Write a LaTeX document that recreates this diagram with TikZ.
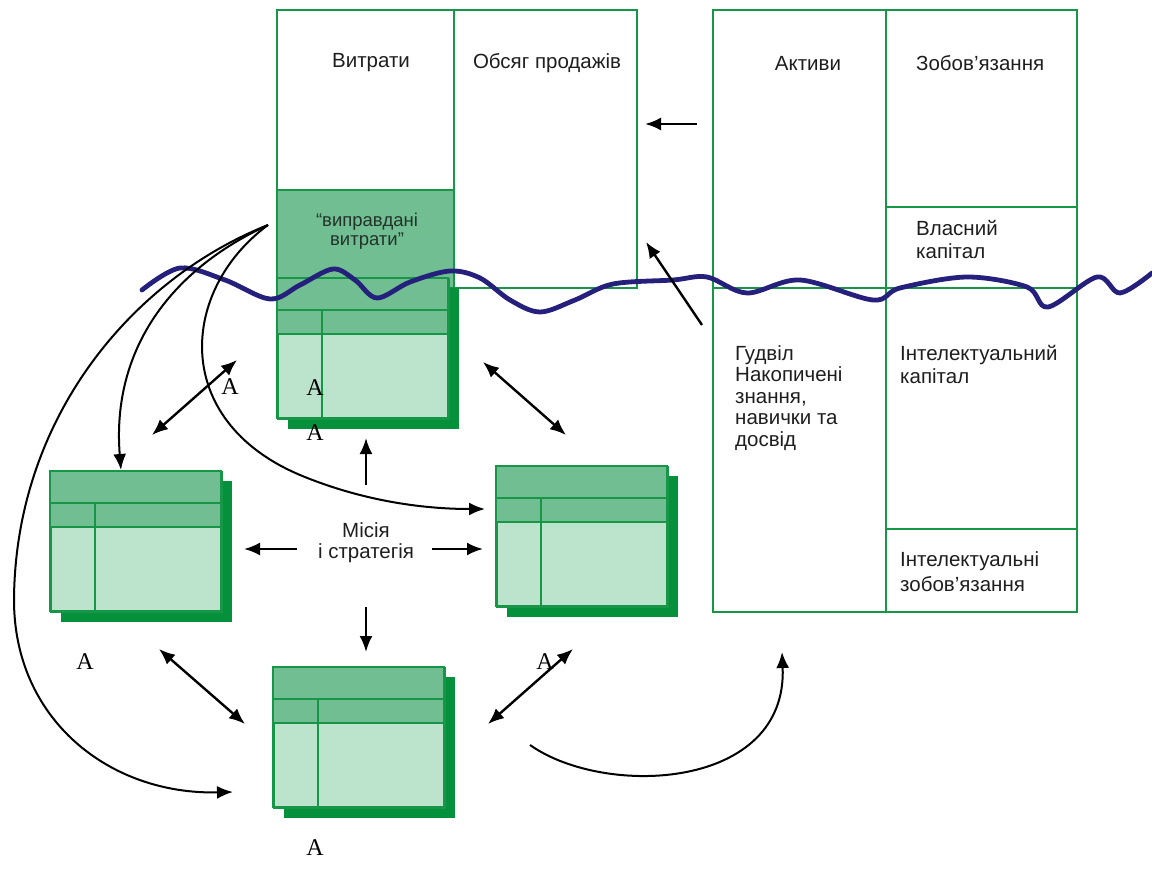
\documentclass[tikz,border=0pt]{standalone}
\usepackage{fontspec}
\setmainfont{Liberation Sans}
\newfontfamily\timesA{Liberation Serif}
\usetikzlibrary{arrows.meta}
\definecolor{gline}{RGB}{22,150,70}
\definecolor{ghead}{RGB}{112,190,146}
\definecolor{gbody}{RGB}{188,227,204}
\definecolor{gshadow}{RGB}{5,145,60}
\definecolor{wavec}{RGB}{38,32,125}
\definecolor{txt}{RGB}{30,30,30}
\tikzset{
  tbl/.style={draw=gline, line width=2.4pt},
  lbl/.style={font=\fontsize{20.5}{23}\selectfont, text=txt, inner sep=0pt},
  lbll/.style={lbl, align=left, anchor=north west},
  arr/.style={line width=2.4pt, -{Latex[length=16pt,width=13pt]}},
  darr/.style={line width=2.4pt, {Latex[length=16pt,width=13pt]}-{Latex[length=16pt,width=13pt]}},
  curv/.style={line width=2pt, -{Latex[length=16pt,width=13pt]}},
  amark/.style={font=\timesA\fontsize{24}{24}\selectfont, inner sep=0pt},
  cardbox/.style={draw=gline, line width=2.4pt, fill=gbody, minimum width=171pt, minimum height=140pt, anchor=north west, inner sep=0pt},
}
\newcommand\mkcard[3]{%
  \fill[gshadow] (#2+11,#3+10) rectangle (#2+182,#3+151);
  \node[cardbox] (#1) at (#2,#3) {};
  \fill[ghead] (#2,#3) rectangle (#2+171,#3+56);
  \draw[gline, line width=2.4pt] (#2,#3) rectangle (#2+171,#3+140);
  \draw[gline, line width=2.4pt] (#2,#3+32) -- (#2+171,#3+32);
  \draw[gline, line width=2.4pt] (#2,#3+56) -- (#2+171,#3+56);
  \draw[gline, line width=2.4pt] (#2+45,#3+32) -- (#2+45,#3+140);
}
\begin{document}
\begin{tikzpicture}[x=1pt,y=-1pt]
\useasboundingbox (0,0) rectangle (1152,885);
% left table
\fill[ghead] (277,190) rectangle (454,288);
\draw[tbl] (277,10) rectangle (637,288);
\draw[tbl] (454,10) -- (454,288);
\draw[tbl] (277,190) -- (454,190);
\node[lbl] (vytr) at (371,63) {Витрати};
\node[lbl] (obs) at (547,63) {Обсяг продажів};
\node[lbl, align=center, font=\fontsize{18.5}{19}\selectfont, text={rgb,255:red,35;green,50;blue,42}] (vypr) at (367,231) {“виправдані\\витрати”};
% right table
\draw[tbl] (713,10) rectangle (1077,612);
\draw[tbl] (886,10) -- (886,612);
\draw[tbl] (713,288) -- (1077,288);
\draw[tbl] (886,207) -- (1077,207);
\draw[tbl] (886,529) -- (1077,529);
\node[lbl] (akt) at (808,63) {Активи};
\node[lbl, anchor=west] (zob) at (916,63) {Зобов’язання};
\node[lbll, font=\fontsize{20.5}{23}\selectfont] (vlas) at (916,220) {Власний\\капітал};
\node[lbll, font=\fontsize{20.5}{21.5}\selectfont] (gudv) at (735,345) {Гудвіл\\Накопичені\\знання,\\навички та\\досвід};
\node[lbll, font=\fontsize{20.5}{23}\selectfont] (ikap) at (900,345) {Інтелектуальний\\капітал};
\node[lbll, font=\fontsize{20.5}{25}\selectfont] (izob) at (900,551) {Інтелектуальні\\зобов’язання};
% cards
\mkcard{ct}{277}{278}
\mkcard{cl}{50}{471}
\mkcard{cr}{496}{466}
\mkcard{cb}{273}{667}
% wave
\draw[wavec, line width=4.8pt, line cap=round, line join=round] plot[smooth, tension=0.55] coordinates {
 (142,290) (180,268) (225,280) (270,299) (300,285) (333,269) (355,280) (377,298) (410,282) (450,271)
 (480,278) (510,300) (540,312) (575,300) (613,284) (673,280) (707,277) (747,293) (800,280) (873,300) (900,288) (967,277)
 (1027,287) (1048,307) (1097,277) (1120,293) (1152,273)};
% mission
\node[lbl, align=center, font=\fontsize{20.5}{21}\selectfont] (mis) at (366,543) {Місія\\і стратегія};
\coordinate (mu1) at (366,485); \coordinate (mu2) at (366,438);
\coordinate (ml1) at (297,549); \coordinate (ml2) at (244,549);
\coordinate (mr1) at (432,549); \coordinate (mr2) at (483,549);
\coordinate (md1) at (366,607); \coordinate (md2) at (366,652);
\draw[arr] (mu1) -- (mu2);
\draw[arr] (ml1) -- (ml2);
\draw[arr] (mr1) -- (mr2);
\draw[arr] (md1) -- (md2);
% double arrows
\coordinate (d1a) at (237,360); \coordinate (d1b) at (152,435);
\coordinate (d2a) at (483,362); \coordinate (d2b) at (566,435);
\coordinate (d3a) at (159,649); \coordinate (d3b) at (245,724);
\coordinate (d4a) at (573,649); \coordinate (d4b) at (488,724);
\draw[darr] (d1a) -- (d1b);
\draw[darr] (d2a) -- (d2b);
\draw[darr] (d3a) -- (d3b);
\draw[darr] (d4a) -- (d4b);
% arrows to left table
\coordinate (h1) at (697,124); \coordinate (h2) at (645,124);
\coordinate (g1) at (702,325); \coordinate (g2) at (646,242);
\draw[arr] (h1) -- (h2);
\draw[arr] (g1) -- (g2);
% fan of curves
\coordinate (src) at (268,225);
\coordinate (ta) at (233,792);
\coordinate (tb) at (121,470);
\coordinate (tc) at (485,509);
\draw[curv] (src) .. controls (130,280) and (15,420) .. (14,600) .. controls (14,720) and (110,795) .. (ta);
\draw[curv] (src) .. controls (160,275) and (112,360) .. (tb);
\draw[curv] (src) .. controls (180,290) and (170,420) .. (300,475) .. controls (360,500) and (420,509) .. (tc);
% bottom curve
\coordinate (bc1) at (530,745); \coordinate (bc2) at (782,652);
\draw[curv] (bc1) .. controls (605,798) and (788,790) .. (bc2);
% A marks
\node[amark] (a1) at (230,387) {A};
\node[amark] (a2) at (315,388) {A};
\node[amark] (a3) at (315,433) {A};
\node[amark] (a4) at (85,662) {A};
\node[amark] (a5) at (545,662) {A};
\node[amark] (a6) at (315,848) {A};
\end{tikzpicture}
\end{document}
